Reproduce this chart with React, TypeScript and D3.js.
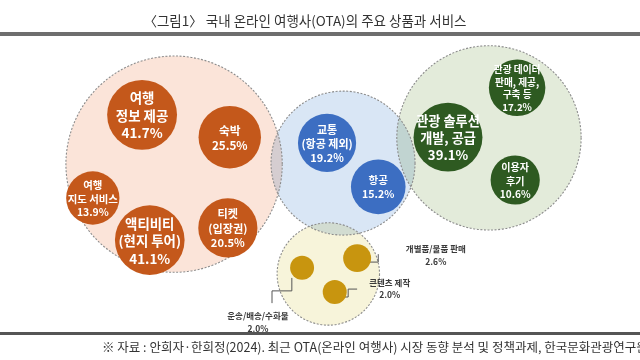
import React from "react";
import * as d3 from "d3";

const W = 640;
const H = 360;
const FONT = "'Noto Sans CJK KR', 'Noto Sans', sans-serif";

const title = "〈그림1〉 국내 온라인 여행사(OTA)의 주요 상품과 서비스";
const source =
  "※ 자료 : 안희자·한희정(2024). 최근 OTA(온라인 여행사) 시장 동향 분석 및 정책과제, 한국문화관광연구원";

// groups (big dashed circles)
const groupNames = ["여행", "교통", "관광 솔루션", "상품/콘텐츠"];
const groupFills = ["#fbe4d9", "#d9e6f5", "#e3ebda", "#f7f4da"];
const groupColors = ["#c4581b", "#3c6ec2", "#2e5a21", "#c8950f"];

// items
const itemLabels = [
  ["여행", "정보 제공"],
  ["숙박"],
  ["여행", "지도 서비스"],
  ["액티비티", "(현지 투어)"],
  ["티켓", "(입장권)"],
  ["교통", "(항공 제외)"],
  ["항공"],
  ["관광 솔루션", "개발, 공급"],
  ["관광 데이터", "판매, 제공,", "구축 등"],
  ["이용자", "후기"],
  ["운송/배송/수화물"],
  ["개별품/물품 판매"],
  ["콘텐츠 제작"],
];
const itemValues = [41.7, 25.5, 13.9, 41.1, 20.5, 19.2, 15.2, 39.1, 17.2, 10.6, 2.0, 2.6, 2.0];
const itemGroup = [0, 0, 0, 0, 0, 1, 1, 2, 2, 2, 3, 3, 3];

// layout, in percent of the frame (x of width, y of height)
const groupPos = [
  [27.2, 45.6, 16.9],
  [53.6, 45.3, 11.25],
  [76.4, 38.3, 14.4],
  [51.3, 76.1, 8.0],
];
const itemPos = [
  [22.2, 31.9],
  [35.9, 38.1],
  [14.5, 55.0],
  [23.4, 66.7],
  [35.6, 63.3],
  [51.1, 39.7],
  [59.1, 51.9],
  [70.0, 38.1],
  [80.8, 24.4],
  [80.5, 50.0],
  [47.2, 74.4],
  [55.8, 71.7],
  [52.3, 81.1],
];
// callouts for the small items: item index, label position, leader bends
const callouts = [
  { item: 10, at: [40.3, 87.5], path: [[45.6, 77.2], [45.6, 80.8], [42.5, 80.8], [42.5, 84.2]] },
  { item: 11, at: [68.1, 68.9], path: [[56.6, 72.8], [59.1, 72.8], [59.1, 70.6]] },
  { item: 12, at: [60.9, 78.3], path: [[53.1, 82.5], [54.4, 82.5], [54.4, 80.3], [55.8, 80.3]] },
];

const x = d3.scaleLinear().domain([0, 100]).range([0, W]);
const y = d3.scaleLinear().domain([0, 100]).range([0, H]);
const r = d3.scaleLog().domain([2, 42]).range([12, 35]);
const fs = d3.scaleLinear().domain([10, 42]).range([10, 13.5]).clamp(true);
const pct = (v: number) => d3.format(".1f")(v) + "%";
const line = d3.line();

export default function App() {
  const inside = itemValues.map((_, i) => !callouts.some((c) => c.item === i));
  return (
    <svg
      width={W}
      height={H}
      style={{ position: "absolute", left: 0, top: 0, background: "#fff" }}
      fontFamily={FONT}
    >
      <text x={305} y={26} textAnchor="middle" fontSize={13.5} fill="#333">
        {title}
      </text>
      <rect x={0} y={32} width={W} height={4} fill="#6e6e6e" />

      <g style={{ isolation: "isolate" }}>
        {groupPos.map((g, i) => (
          <circle
            key={groupNames[i]}
            cx={x(g[0])}
            cy={y(g[1])}
            r={x(g[2])}
            fill={groupFills[i]}
            style={{ mixBlendMode: "multiply" }}
          />
        ))}
      </g>
      {groupPos.map((g, i) => (
        <circle
          key={"s" + i}
          cx={x(g[0])}
          cy={y(g[1])}
          r={x(g[2])}
          fill="none"
          stroke="#8c8c8c"
          strokeWidth={1.1}
          strokeDasharray="2 1.6"
        />
      ))}

      {callouts.map((c) => (
        <path
          key={"l" + c.item}
          d={line(c.path.map((p) => [x(p[0]), y(p[1])])) || ""}
          fill="none"
          stroke="#555"
          strokeWidth={1}
        />
      ))}

      {itemValues.map((v, i) => {
        const cx = x(itemPos[i][0]);
        const cy = y(itemPos[i][1]);
        const col = groupColors[itemGroup[i]];
        if (!inside[i]) return <circle key={i} cx={cx} cy={cy} r={r(v)} fill={col} />;
        const lines = [...itemLabels[i], pct(v)];
        const f = fs(v) * (lines.length > 3 ? 0.9 : 1);
        const lh = f * 1.3;
        const top = cy - ((lines.length - 1) * lh) / 2;
        return (
          <g key={i}>
            <circle cx={cx} cy={cy} r={r(v)} fill={col} />
            {lines.map((t, k) => (
              <text
                key={k}
                x={cx}
                y={top + k * lh}
                textAnchor="middle"
                dominantBaseline="central"
                fontSize={f}
                fontWeight={700}
                fill="#fff"
              >
                {t}
              </text>
            ))}
          </g>
        );
      })}

      {callouts.map((c) => (
        <g key={"t" + c.item}>
          {[...itemLabels[c.item], pct(itemValues[c.item])].map((t, k) => (
            <text
              key={k}
              x={x(c.at[0])}
              y={y(c.at[1]) + k * 12.5}
              textAnchor="middle"
              dominantBaseline="central"
              fontSize={8.5}
              fontWeight={700}
              fill="#3a3a3a"
            >
              {t}
            </text>
          ))}
        </g>
      ))}

      <rect x={0} y={332} width={W} height={3} fill="#555" />
      <text x={102} y={352} fontSize={12.5} fill="#333">
        {source}
      </text>
    </svg>
  );
}
